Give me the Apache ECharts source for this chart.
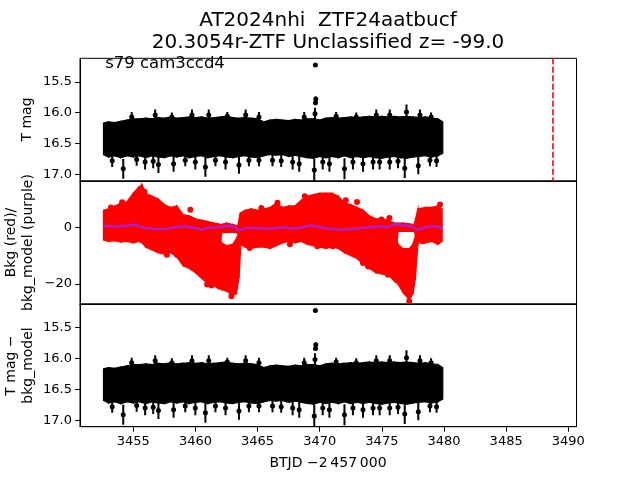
<!DOCTYPE html>
<html><head><meta charset="utf-8">
<script src="https://cdn.jsdelivr.net/npm/echarts@6/dist/echarts.min.js"></script>
<style>html,body{margin:0;padding:0;background:#fff}#c{width:640px;height:480px}</style>
</head><body><div id="c"></div>
<script>
// ---------------- data ----------------
const xTicks = [3455, 3460, 3465, 3470, 3475, 3480, 3485, 3490];
const magTicks = [15.5, 16.0, 16.5, 17.0];
const bkgTicks = [-20, 0];
const discoveryT = 3488.78;

// T mag: envelope of the dense light curve (bright edge / faint edge)
const magBandT  = [3452.6,3453.0,3453.5,3454.0,3454.5,3455.0,3455.5,3456.0,3456.5,3457.0,3457.5,3458.0,3458.5,3459.0,3459.5,3460.0,3460.5,3461.0,3461.5,3462.0,3462.5,3463.0,3463.5,3464.0,3464.5,3465.0,3465.5,3466.0,3466.5,3467.0,3467.5,3468.0,3468.5,3469.0,3469.5,3470.0,3470.5,3471.0,3471.5,3472.0,3472.5,3473.0,3473.5,3474.0,3474.5,3475.0,3475.5,3476.0,3476.5,3477.0,3477.5,3478.0,3478.5,3479.0,3479.5,3479.9];
const magBandHi = [16.17,16.15,16.16,16.14,16.12,16.10,16.10,16.09,16.10,16.08,16.09,16.07,16.09,16.08,16.07,16.08,16.07,16.09,16.08,16.07,16.06,16.08,16.09,16.08,16.09,16.10,16.15,16.12,16.11,16.12,16.13,16.11,16.12,16.10,16.10,16.12,16.09,16.08,16.09,16.08,16.07,16.08,16.07,16.06,16.07,16.06,16.07,16.06,16.07,16.06,16.07,16.08,16.07,16.09,16.10,16.15];
const magBandLo = [16.68,16.72,16.70,16.73,16.70,16.72,16.70,16.73,16.70,16.72,16.73,16.70,16.72,16.70,16.73,16.71,16.70,16.73,16.71,16.70,16.72,16.73,16.71,16.70,16.72,16.73,16.70,16.68,16.69,16.68,16.71,16.69,16.71,16.73,16.74,16.71,16.73,16.71,16.73,16.70,16.73,16.71,16.73,16.71,16.73,16.74,16.72,16.71,16.73,16.74,16.72,16.71,16.70,16.72,16.70,16.66];
// individual points sticking out of the band
const magSpikeT = [3453.3,3454.19,3455.27,3455.95,3456.6,3457.02,3458.24,3459.18,3459.99,3460.8,3461.61,3462.42,3463.5,3464.3,3465.11,3466.2,3466.9,3467.82,3468.35,3469.56,3470.24,3470.78,3471.99,3472.67,3473.48,3474.29,3474.82,3475.63,3476.3,3476.84,3477.93,3478.87,3479.4,
                   3454.87,3456.76,3458.1,3459.72,3461.07,3462.56,3464.04,3465.11,3468.75,3469.62,3471.32,3472.94,3474.55,3475.63,3476.98,3478.06,3478.96,
                   3469.66,3469.68,3469.65];
const magSpikeV = [16.78,16.91,16.76,16.80,16.79,16.84,16.83,16.77,16.80,16.88,16.77,16.80,16.85,16.77,16.77,16.77,16.78,16.80,16.83,16.93,16.80,16.83,16.91,16.80,16.83,16.80,16.80,16.80,16.79,16.90,16.86,16.77,16.78,
                   16.07,16.04,16.07,16.04,16.04,16.06,16.04,16.07,16.07,16.02,16.06,16.07,16.04,16.04,15.99,16.04,16.07,
                   15.84,15.78,15.23];
const magSpikeErr = [0.10,0.16,0.10,0.12,0.11,0.14,0.13,0.10,0.12,0.16,0.10,0.12,0.14,0.10,0.10,0.10,0.10,0.12,0.13,0.18,0.12,0.13,0.17,0.12,0.13,0.12,0.12,0.12,0.11,0.16,0.14,0.10,0.10,
                     0.08,0.09,0.07,0.09,0.09,0.07,0.09,0.08,0.08,0.10,0.07,0.07,0.09,0.09,0.12,0.09,0.07,
                     0.04,0.04,0.02];

// Background: red cloud envelope (upper part and deep dips)
const bkgBandT  = [3452.6,3453.0,3453.5,3454.0,3454.5,3455.0,3455.4,3455.7,3456.0,3456.5,3457.0,3457.5,3458.0,3458.5,3459.0,3459.5,3460.0,3460.5,3461.0,3461.5,3461.8,3462.1,3462.5,3463.0,3463.4,3463.6,3464.0,3464.5,3465.0,3465.5,3466.0,3466.5,3467.0,3467.5,3468.0,3468.5,3469.0,3469.5,3470.0,3470.5,3471.0,3471.5,3472.0,3472.5,3473.0,3473.5,3474.0,3474.5,3475.0,3475.5,3476.0,3476.3,3476.7,3477.2,3477.6,3477.9,3478.5,3479.0,3479.5,3479.85];
const bkgBandHi = [6.0,6.5,7.5,8.5,9.0,12.0,14.0,15.0,12.0,11.0,10.0,8.0,7.0,7.5,4.5,4.0,3.0,2.5,2.0,1.5,1.2,1.0,1.5,1.0,0.5,5.0,6.0,6.5,6.0,6.5,7.0,8.5,7.0,7.5,7.5,9.5,11.0,11.5,12.0,12.0,12.0,11.0,8.5,8.0,7.0,6.0,4.0,3.0,3.0,2.5,1.5,1.5,1.5,1.2,1.0,6.5,7.0,7.0,7.5,6.5];
const bkgBandLo = [-4.5,-5.0,-4.8,-5.2,-5.0,-5.5,-5.0,-5.5,-7.0,-8.0,-9.0,-9.5,-9.0,-10.5,-13.5,-14.5,-16.0,-18.0,-20.0,-20.5,-21.0,-2.0,-1.8,-1.8,-2.0,-6.0,-7.0,-7.5,-7.0,-7.0,-7.5,-6.5,-5.5,-5.0,-5.5,-5.0,-6.0,-6.5,-7.0,-7.5,-7.0,-7.5,-9.0,-10.0,-11.0,-13.0,-14.5,-16.0,-16.5,-17.0,-18.5,-1.5,-1.5,-1.5,-1.5,-5.5,-5.5,-5.0,-6.0,-5.0];
const bkgDip1T  = [3461.5,3461.8,3462.1,3462.5,3463.0,3463.3,3463.5,3463.65];
const bkgDip1Hi = [-2.0,-2.5,-5.5,-6.5,-6.0,-4.0,-2.0,-2.0];
const bkgDip1Lo = [-20.5,-21.5,-22.0,-22.5,-24.0,-23.5,-18.0,-6.5];
const bkgDip2T  = [3475.8,3476.0,3476.3,3476.7,3477.2,3477.5,3477.7,3477.9];
const bkgDip2Hi = [-2.0,-2.0,-6.0,-7.5,-7.5,-6.0,-3.0,-2.0];
const bkgDip2Lo = [-18.0,-19.0,-20.0,-23.0,-25.5,-23.5,-18.0,-6.0];
const bkgOutT = [3453.2,3454.1,3455.9,3457.7,3458.5,3459.59,3460.94,3461.3,3462.9,3464.36,3465.3,3466.6,3467.6,3468.8,3469.8,3471.05,3472.1,3473.0,3473.48,3473.9,3474.96,3475.5,3475.6,3477.2,3478.3,3479.68];
const bkgOutV = [7.0,8.8,12.5,-9.7,-9.7,6.2,-20.2,-20.5,-24.3,-7.3,6.8,8.6,-6.0,10.9,-6.7,-6.7,9.5,8.9,-12.6,-13.8,2.7,-16.7,3.3,-26.0,-4.9,8.0];
// background model (purple)
const modelT = [3452.6,3453.5,3454.6,3455.1,3455.95,3456.8,3457.6,3458.4,3459.2,3460.0,3460.5,3461.1,3461.9,3462.7,3463.2,3463.5,3464.0,3464.9,3465.9,3467.0,3468.0,3469.3,3470.4,3471.7,3472.8,3473.9,3475.0,3475.5,3476.0,3476.6,3477.4,3477.9,3478.5,3479.3,3479.85];
const modelV = [0.4,0.25,0.6,0.9,-0.3,-0.6,-0.5,0.0,0.35,-0.3,-0.9,-0.05,0.0,0.5,0.0,-1.2,-0.3,-0.3,-0.5,0.0,-0.5,0.6,-0.25,-0.9,-0.5,0.0,0.35,0.0,1.2,0.7,0.35,-0.9,0.0,0.35,-0.25];

// T mag - bkg_model (visually identical to T mag)
const detBandT = magBandT, detBandHi = magBandHi, detBandLo = magBandLo;
const detSpikeT = magSpikeT, detSpikeV = magSpikeV, detSpikeErr = magSpikeErr;

// ---------------- chart ----------------
const FONT = 'DejaVu Sans';
const chart = echarts.init(document.getElementById('c'), null, {renderer: 'canvas'});

function band(gi, tArr, hiArr, loArr, color) {
  const rows = tArr.map((t, i) => [t, hiArr[i], loArr[i]]);
  return {
    type: 'custom', xAxisIndex: gi, yAxisIndex: gi, data: rows, clip: true, silent: true,
    encode: {x: 0, y: [1, 2]},
    renderItem(params, api) {
      const i = params.dataIndex;
      if (i >= rows.length - 1) return null;
      const a = rows[i], b = rows[i + 1];
      const pts = [api.coord([a[0], a[1]]), api.coord([b[0], b[1]]), api.coord([b[0], b[2]]), api.coord([a[0], a[2]])];
      return {type: 'polygon', shape: {points: pts}, style: {fill: color, stroke: color, lineWidth: 1.2}};
    }
  };
}
function dots(gi, tArr, vArr, errArr, color, r) {
  const rows = tArr.map((t, i) => [t, vArr[i], errArr ? errArr[i] : 0]);
  return {
    type: 'custom', xAxisIndex: gi, yAxisIndex: gi, data: rows, clip: true, silent: true,
    encode: {x: 0, y: 1},
    renderItem(params, api) {
      const t = api.value(0), v = api.value(1), e = api.value(2);
      const c = api.coord([t, v]);
      const kids = [];
      if (e > 0) {
        const p1 = api.coord([t, v - e]), p2 = api.coord([t, v + e]);
        kids.push({type: 'line', shape: {x1: p1[0], y1: p1[1], x2: p2[0], y2: p2[1]}, style: {stroke: color, lineWidth: 2}});
      }
      kids.push({type: 'circle', shape: {cx: c[0], cy: c[1], r: r}, style: {fill: color}});
      return {type: 'group', children: kids};
    }
  };
}

const grids = [
  {left: 80, right: 63.5, top: 58.3, height: 122.7},
  {left: 80, right: 63.5, top: 181, height: 123},
  {left: 80, right: 63.5, top: 304, height: 122.7}
].map(g => Object.assign(g, {show: true, borderColor: '#000', borderWidth: 1, containLabel: false}));

function xAx(gi, showLabels) {
  return {
    type: 'value', gridIndex: gi, min: 3450.71, max: 3490.66,
    splitLine: {show: false},
    axisLine: {show: true, onZero: false, lineStyle: {color: '#000', width: 1}},
    axisTick: {show: showLabels, customValues: xTicks, length: 5, lineStyle: {color: '#000', width: 1}},
    axisLabel: {show: showLabels, customValues: xTicks, margin: 8, color: '#000', fontFamily: FONT, fontSize: 13, formatter: v => String(v)}
  };
}
function yAx(gi, min, max, inverse, ticks, fmt) {
  return {
    type: 'value', gridIndex: gi, min: min, max: max, inverse: inverse,
    splitLine: {show: false},
    axisLine: {show: true, onZero: false, lineStyle: {color: '#000', width: 1}},
    axisTick: {show: true, customValues: ticks, length: 5, lineStyle: {color: '#000', width: 1}},
    axisLabel: {show: true, customValues: ticks, margin: 8, color: '#000', fontFamily: FONT, fontSize: 13, formatter: fmt}
  };
}
const fmt1 = v => Number(v).toFixed(1);
const fmtMinus = v => (v < 0 ? '\u2212' + Math.abs(v) : String(v));

const txt = (text, x, y, size, rot, extra) => Object.assign({
  type: 'text', x: x, y: y, rotation: rot || 0, z: 100,
  style: {text: text, fontFamily: FONT, fontSize: size, fill: '#000', align: 'center', verticalAlign: 'middle', lineHeight: Math.round(size * 1.2)}
}, extra || {});

chart.setOption({
  animation: false,
  backgroundColor: '#fff',
  grid: grids,
  xAxis: [xAx(0, false), xAx(1, false), xAx(2, true)],
  yAxis: [
    yAx(0, 15.12, 17.108, true, magTicks, fmt1),
    yAx(1, -27.05, 16.3, false, bkgTicks, fmtMinus),
    yAx(2, 15.124, 17.103, true, magTicks, fmt1)
  ],
  series: [
    band(0, magBandT, magBandHi, magBandLo, '#000'),
    dots(0, magSpikeT, magSpikeV, magSpikeErr, '#000', 2.5),
    {
      type: 'line', xAxisIndex: 0, yAxisIndex: 0, data: [], silent: true,
      markLine: {symbol: 'none', silent: true, label: {show: false},
        lineStyle: {color: '#ff0000', type: [6, 2.5], width: 1.6},
        data: [{xAxis: discoveryT}]}
    },
    band(1, bkgBandT, bkgBandHi, bkgBandLo, '#ff0000'),
    band(1, bkgDip1T, bkgDip1Hi, bkgDip1Lo, '#ff0000'),
    band(1, bkgDip2T, bkgDip2Hi, bkgDip2Lo, '#ff0000'),
    dots(1, bkgOutT, bkgOutV, null, '#ff0000', 3),
    {
      type: 'line', xAxisIndex: 1, yAxisIndex: 1, silent: true, showSymbol: false, z: 5,
      data: modelT.map((t, i) => [t, modelV[i]]),
      lineStyle: {color: '#b01ec8', width: 2.5}
    },
    band(2, detBandT, detBandHi, detBandLo, '#000'),
    dots(2, detSpikeT, detSpikeV, detSpikeErr, '#000', 2.5)
  ],
  graphic: [
    txt('AT2024nhi  ZTF24aatbucf', 328, 21, 20),
    txt('20.3054r-ZTF Unclassified z= -99.0', 328, 43, 20),
    txt('s79 cam3ccd4', 165, 64, 16.5),
    txt('T mag', 27, 119.5, 14, Math.PI / 2),
    txt('Bkg (red)/\nbkg_model (purple)', 20, 242.5, 14, Math.PI / 2),
    txt('T mag \u2212\nbkg_model', 20, 365.5, 14, Math.PI / 2),
    txt('BTJD \u22122\u2009457\u2009000', 328, 463, 14)
  ]
});
</script></body></html>
